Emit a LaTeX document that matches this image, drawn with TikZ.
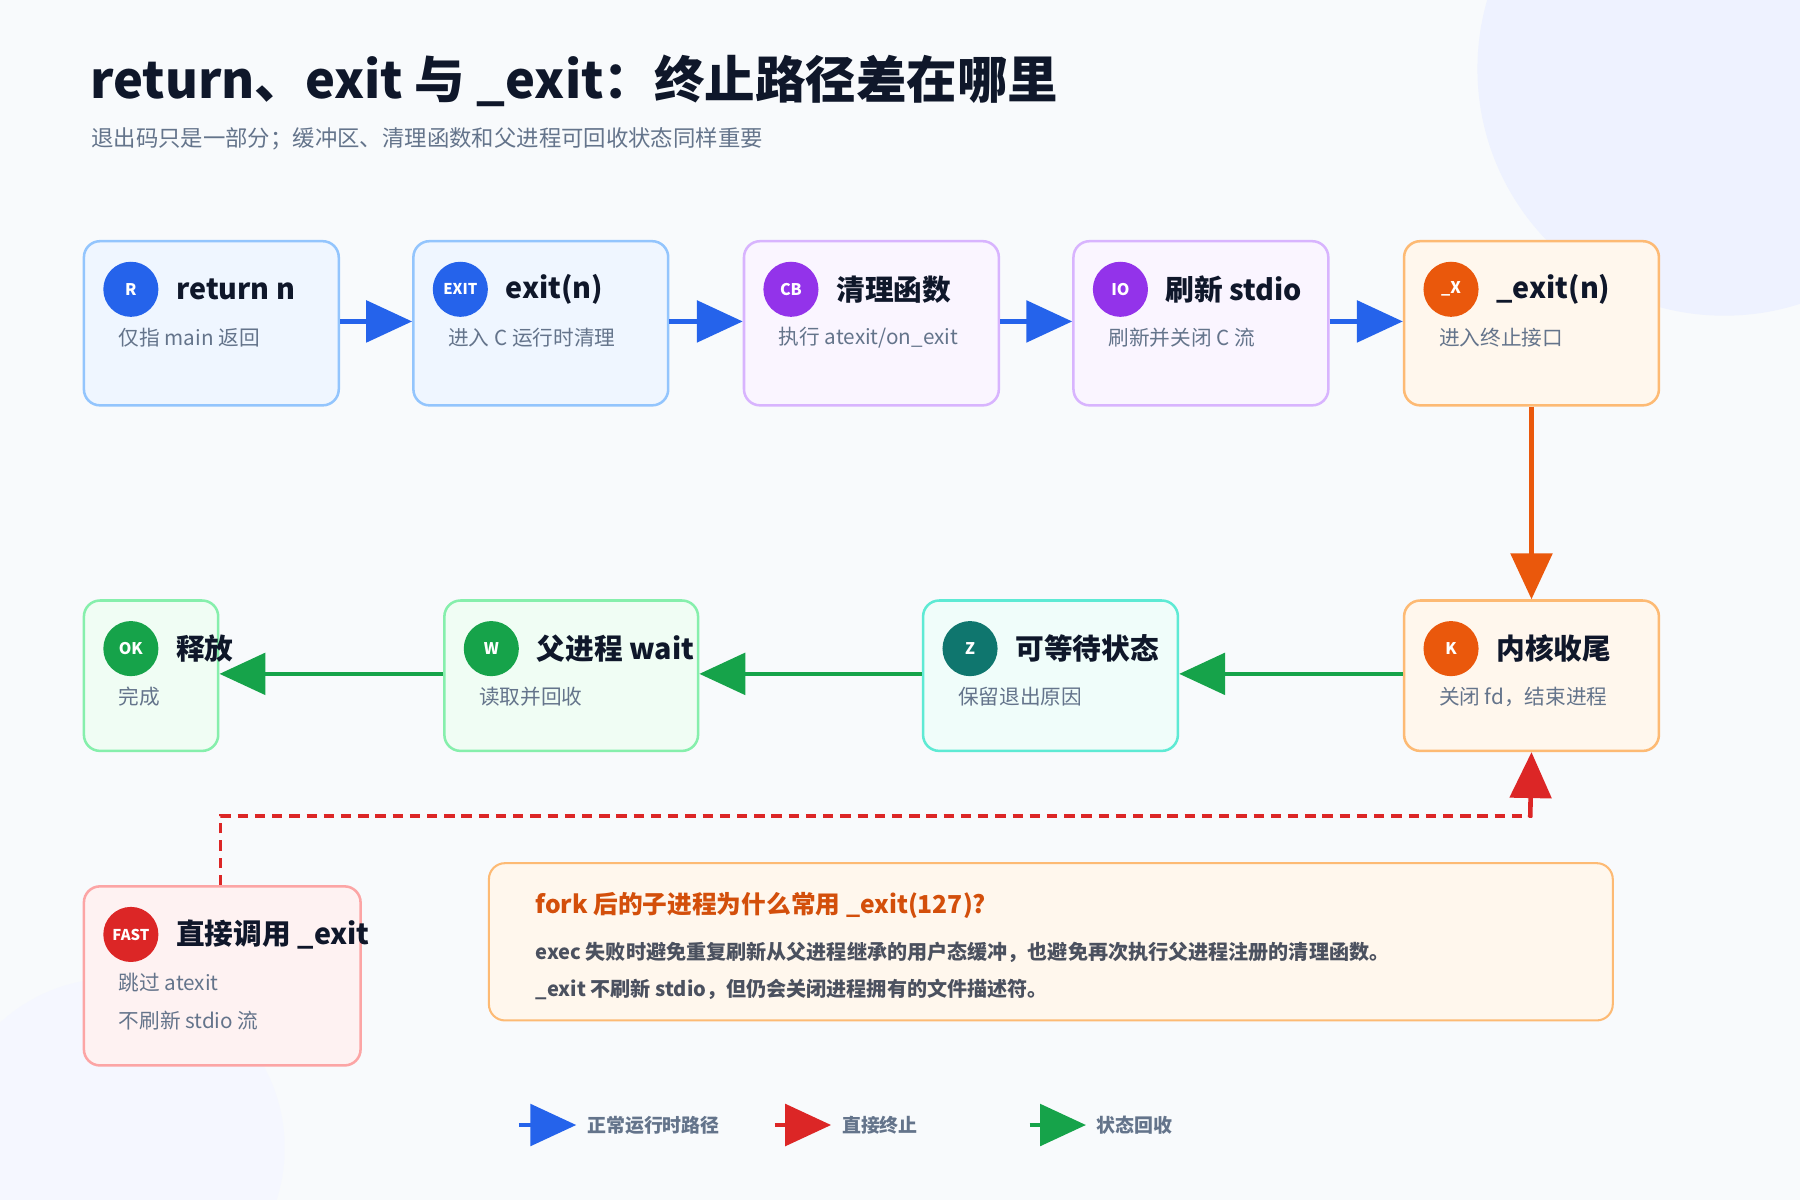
\documentclass[tikz,border=0pt]{standalone}
\usepackage{fontspec}
\setmainfont{Noto Sans CJK SC}
\usetikzlibrary{arrows.meta}
\definecolor{bg}{HTML}{F8FAFC}
\definecolor{ink}{HTML}{0F172A}
\definecolor{sub}{HTML}{64748B}
\definecolor{cB}{HTML}{2563EB}\definecolor{fB}{HTML}{EFF6FF}\definecolor{bB}{HTML}{93C5FD}
\definecolor{cP}{HTML}{9333EA}\definecolor{fP}{HTML}{FAF5FF}\definecolor{bP}{HTML}{D8B4FE}
\definecolor{cO}{HTML}{EA580C}\definecolor{fO}{HTML}{FFF7ED}\definecolor{bO}{HTML}{FDBA74}
\definecolor{cG}{HTML}{16A34A}\definecolor{fG}{HTML}{F0FDF4}\definecolor{bG}{HTML}{86EFAC}
\definecolor{cT}{HTML}{0F766E}\definecolor{fT}{HTML}{F0FDFA}\definecolor{bT}{HTML}{5EEAD4}
\definecolor{cR}{HTML}{DC2626}\definecolor{fR}{HTML}{FEF2F2}\definecolor{bR}{HTML}{FCA5A5}
\definecolor{deco}{HTML}{EEF2FF}
\tikzset{
 box/.style={draw=#1,line width=2.2pt,rounded corners=14pt,anchor=north west,inner sep=0pt},
 badge/.style={circle,fill=#1,minimum size=48pt,inner sep=0pt,text=white,font=\bfseries\fontsize{14}{14}\selectfont},
 ttl/.style={anchor=west,font=\bfseries\fontsize{25}{28}\selectfont,text=ink},
 sbt/.style={anchor=west,font=\fontsize{18}{20}\selectfont,text=sub},
 arr/.style={line width=4pt,draw=#1,-{Triangle[length=40pt,width=36pt,fill=#1]}},
}
\newcommand{\mybox}[9]{% name x y w h fill border badgecolor badgetext
 \node[box=#7,fill=#6,minimum width=#4pt,minimum height=#5pt] (#1) at (#2,#3) {};
 \node[badge=#8] (#1b) at (#2+42,#3+43) {#9};}
\begin{document}
\begin{tikzpicture}[x=1pt,y=-1pt]
\fill[bg] (0,0) rectangle (1568,1045);
\useasboundingbox (0,0) rectangle (1568,1045);
\begin{scope}
\clip (0,0) rectangle (1568,1045);
\fill[deco] (1502,60) circle (215);
\fill[deco!60] (100,1000) circle (148);
\end{scope}
\node[anchor=west,font=\bfseries\fontsize{44}{48}\selectfont,text=ink] (title) at (75,70) {return、exit 与 \_exit：终止路径差在哪里};
\node[anchor=west,font=\fontsize{19.5}{22}\selectfont,text=sub] (subtitle) at (76,121) {退出码只是一部分；缓冲区、清理函数和父进程可回收状态同样重要};

\mybox{r}{72}{209}{222}{143}{fB}{bB}{cB}{R}
\mybox{e}{359}{209}{222}{143}{fB}{bB}{cB}{\fontsize{13}{13}\selectfont EXIT}
\mybox{c}{647}{209}{222}{143}{fP}{bP}{cP}{CB}
\mybox{i}{934}{209}{222}{143}{fP}{bP}{cP}{IO}
\mybox{x}{1222}{209}{222}{143}{fO}{bO}{cO}{\_X}
\mybox{k}{1222}{522}{222}{131}{fO}{bO}{cO}{K}
\mybox{z}{803}{522}{222}{131}{fT}{bT}{cT}{Z}
\mybox{w}{386}{522}{221}{131}{fG}{bG}{cG}{W}
\mybox{ok}{72}{522}{117}{131}{fG}{bG}{cG}{OK}
\mybox{f}{72}{771}{241}{156}{fR}{bR}{cR}{\fontsize{13}{13}\selectfont FAST}

\node[ttl] at (150,252) {return n};\node[sbt] at (100,294) {仅指 main 返回};
\node[ttl] at (437,252) {exit(n)};\node[sbt] at (387,294) {进入 C 运行时清理};
\node[ttl] at (725,252) {清理函数};\node[sbt] at (675,294) {执行 atexit/on\_exit};
\node[ttl] at (1012,252) {刷新 stdio};\node[sbt] at (962,294) {刷新并关闭 C 流};
\node[ttl] at (1300,252) {\_exit(n)};\node[sbt] at (1250,294) {进入终止接口};
\node[ttl] at (1300,565) {内核收尾};\node[sbt] at (1250,607) {关闭 fd，结束进程};
\node[ttl] at (881,565) {可等待状态};\node[sbt] at (831,607) {保留退出原因};
\node[ttl] at (464,565) {父进程 wait};\node[sbt] at (414,607) {读取并回收};
\node[ttl] at (150,565) {释放};\node[sbt] at (100,607) {完成};
\node[ttl] at (150,814) {直接调用 \_exit};\node[sbt] at (100,856) {跳过 atexit};\node[sbt] at (100,889) {不刷新 stdio 流};

\draw[arr=cB] (r.east|-0,280) -- (e.west|-0,280);
\draw[arr=cB] (e.east|-0,280) -- (c.west|-0,280);
\draw[arr=cB] (c.east|-0,280) -- (i.west|-0,280);
\draw[arr=cB] (i.east|-0,280) -- (x.west|-0,280);
\draw[arr=cO] (x.south) -- (k.north);
\draw[arr=cG] (k.west|-0,587) -- (z.east|-0,587);
\draw[arr=cG] (z.west|-0,587) -- (w.east|-0,587);
\draw[arr=cG] (w.west|-0,587) -- (ok.east|-0,587);
\draw[line width=3pt,draw=cR,dash pattern=on 9pt off 6pt] (192,771) -- (192,711) -- (1333,711) -- (1333,690);
\draw[arr=cR] (1333,712) -- (k.south);

\node[box=bO,fill=fO,minimum width=979pt,minimum height=137pt,line width=1.8pt] (note) at (425,751) {};
\node[anchor=west,font=\bfseries\fontsize{21.5}{24}\selectfont,text=cO!90!black] at (463,789) {fork 后的子进程为什么常用 \_exit(127)?};
\node[anchor=west,font=\bfseries\fontsize{17.5}{20}\selectfont,text=ink!75] at (463,830) {exec 失败时避免重复刷新从父进程继承的用户态缓冲，也避免再次执行父进程注册的清理函数。};
\node[anchor=west,font=\bfseries\fontsize{17.5}{20}\selectfont,text=ink!75] at (463,862) {\_exit 不刷新 stdio，但仍会关闭进程拥有的文件描述符。};

\coordinate (l1a) at (452,980);\coordinate (l1b) at (502,980);
\coordinate (l2a) at (675,980);\coordinate (l2b) at (724,980);
\coordinate (l3a) at (897,980);\coordinate (l3b) at (946,980);
\draw[arr=cB] (l1a) -- (l1b);\draw[arr=cR] (l2a) -- (l2b);\draw[arr=cG] (l3a) -- (l3b);
\node[anchor=west,font=\bfseries\fontsize{16.5}{18}\selectfont,text=sub] at (508,980) {正常运行时路径};
\node[anchor=west,font=\bfseries\fontsize{16.5}{18}\selectfont,text=sub] at (730,980) {直接终止};
\node[anchor=west,font=\bfseries\fontsize{16.5}{18}\selectfont,text=sub] at (952,980) {状态回收};
\end{tikzpicture}
\end{document}
